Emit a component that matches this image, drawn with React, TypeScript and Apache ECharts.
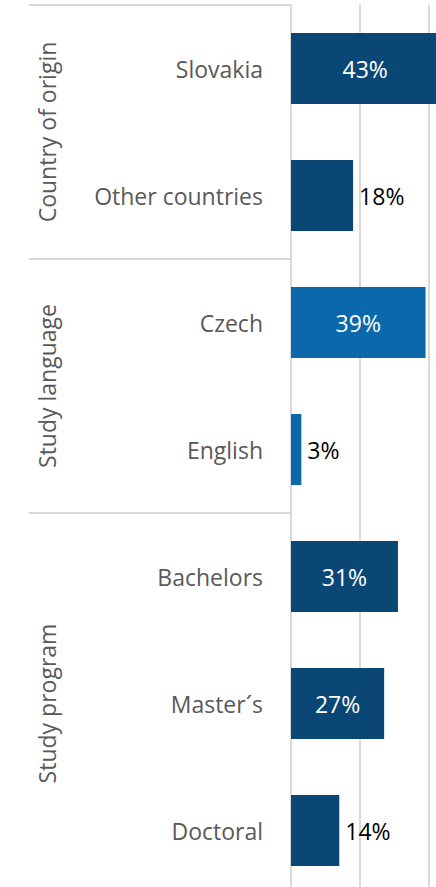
import React, { useEffect, useRef } from "react";
import * as echarts from "echarts";

const categories = ["Slovakia", "Other countries", "Czech", "English", "Bachelors", "Master´s", "Doctoral"];
const values = [43, 18, 39, 3, 31, 27, 14];
const groups = ["Country of origin", "Study language", "Study program"];
const groupSizes = [2, 2, 3];
const groupColors = ["#0b4775", "#0a68ab", "#0b4775"];
const xMin = 0;
const xMax = 60;
const xInterval = 20;

const FONT = "Open Sans";

export default function App() {
  const ref = useRef<HTMLDivElement>(null);
  useEffect(() => {
    document.body.style.margin = "0";
    const chart = echarts.init(ref.current!, null, { renderer: "svg" });
    const groupOf: number[] = [];
    const groupStarts: number[] = [];
    let idx = 0;
    groupSizes.forEach((n, g) => {
      groupStarts.push(idx);
      for (let k = 0; k < n; k++) groupOf.push(g);
      idx += n;
    });
    const data = values.map((v, i) => ({
      value: v,
      itemStyle: { color: groupColors[groupOf[i]] },
      label: v >= 20
        ? { position: "inside", color: "#ffffff" }
        : { position: "right", color: "#000000", distance: 6 },
    }));
    chart.setOption({
      animation: false,
      grid: { left: 291, top: 5, height: 889, width: 207, containLabel: false },
      xAxis: {
        type: "value",
        min: xMin,
        max: xMax,
        interval: xInterval,
        axisLabel: { show: false },
        axisLine: { show: false },
        axisTick: { show: false },
        splitLine: { show: true, lineStyle: { color: "#d9d9d9", width: 2 } },
      },
      yAxis: {
        type: "category",
        inverse: true,
        data: categories,
        axisLine: { show: true, lineStyle: { color: "#d9d9d9", width: 2 } },
        axisTick: { show: false },
        axisLabel: {
          margin: 28,
          color: "#595959",
          fontFamily: FONT,
          fontSize: 23,
        },
      },
      series: [
        {
          type: "bar",
          data,
          barWidth: 71,
          label: {
            show: true,
            formatter: "{c}%",
            fontFamily: FONT,
            fontSize: 23,
          },
        },
      ],
    });
    const yOf = (c: string) => chart.convertToPixel({ yAxisIndex: 0 }, c) as number;
    const band = Math.abs(yOf(categories[1]) - yOf(categories[0]));
    const axisX = chart.convertToPixel({ xAxisIndex: 0 }, xMin) as number;
    const graphics: any[] = [];
    groups.forEach((name, g) => {
      const first = categories[groupStarts[g]];
      const last = categories[groupStarts[g] + groupSizes[g] - 1];
      const y1 = yOf(first);
      const y2 = yOf(last);
      const top = y1 - band / 2;
      graphics.push({
        type: "line",
        shape: { x1: 29, y1: top, x2: axisX, y2: top },
        style: { stroke: "#d9d9d9", lineWidth: 2 },
      });
      graphics.push({
        type: "text",
        x: 47,
        y: (y1 + y2) / 2,
        rotation: Math.PI / 2,
        style: {
          text: name,
          fill: "#595959",
          font: `23px "${FONT}"`,
          align: "center",
          verticalAlign: "middle",
        },
      });
    });
    chart.setOption({ graphic: graphics });
    return () => chart.dispose();
  }, []);
  return (
    <div style={{ width: 436, height: 887, overflow: "hidden", position: "relative" }}>
      <div ref={ref} style={{ width: 500, height: 900 }} />
    </div>
  );
}
